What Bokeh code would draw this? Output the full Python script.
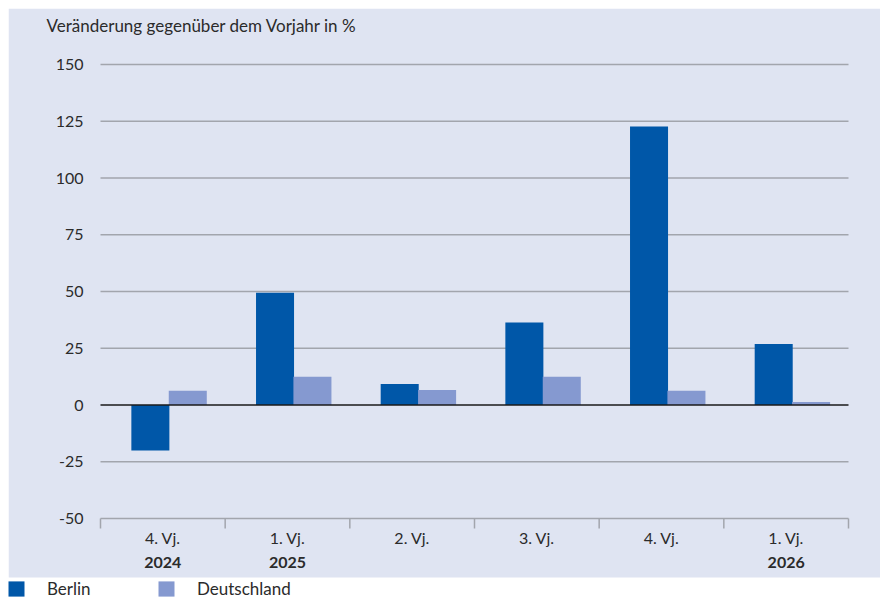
import numpy as np
from bokeh.plotting import figure
from bokeh.models import Range1d, ColumnDataSource, Legend, LegendItem, BoxAnnotation
from bokeh.layouts import column
from bokeh.transform import dodge
from bokeh.core.properties import value
from bokeh.embed import file_html
from bokeh.resources import INLINE

# ---- data ----
quarters = ["4. Vj.", "1. Vj.", "2. Vj.", "3. Vj.", "4. Vj.", "1. Vj."]
years = ["2024", "2025", "", "", "", "2026"]
berlin = [-20.0, 49.5, 9.3, 36.3, 122.7, 26.9]
deutschland = [6.3, 12.5, 6.6, 12.4, 6.3, 1.3]
y_ticks = [-50, -25, 0, 25, 50, 75, 100, 125, 150]
title_text = "Veränderung gegenüber dem Vorjahr in %"
series_names = ["Berlin", "Deutschland"]

# ---- style ----
BG = "#dfe4f2"
C_BERLIN = "#0057a8"
C_DE = "#8599d0"
FONT = "Lato"
TXT = "#2b2b2b"
GRID = "#a2a5ad"
FS = "16px"
FS_BIG = "17px"

W, H_PANEL, H_LEG = 872, 569, 22
PAD_L, PAD_R, PAD_T, PAD_B = 92, 32, 56, 59   # pixel padding of the plotting area inside the panel

n = len(quarters)
ymin, ymax = y_ticks[0], y_ticks[-1]
ux = (W - PAD_L - PAD_R) / n
uy = (H_PANEL - PAD_T - PAD_B) / (ymax - ymin)
x_range = Range1d(-PAD_L / ux, n + PAD_R / ux)
y_range = Range1d(ymin - (PAD_B + H_LEG) / uy, ymax + PAD_T / uy)

xpos = np.arange(n) + 0.5
src = ColumnDataSource(dict(x=xpos, berlin=berlin, de=deutschland, quarter=quarters, year=years))
grid_vals = [t for t in y_ticks if t != 0]
grid_src = ColumnDataSource(dict(y=grid_vals))
tick_src = ColumnDataSource(dict(y=y_ticks, label=[str(t) for t in y_ticks]))
bound_src = ColumnDataSource(dict(x=list(range(n + 1))))

p = figure(width=W, height=H_PANEL + H_LEG, x_range=x_range, y_range=y_range,
           output_backend="svg", toolbar_location=None, min_border=0,
           x_axis_location=None, y_axis_location=None,
           background_fill_color="white", border_fill_color="white", outline_line_color=None)
p.grid.visible = False

# coloured panel
p.add_layout(BoxAnnotation(bottom=ymin - PAD_B / uy, fill_color=BG, fill_alpha=1,
                           line_color=None, level="underlay"))

# grid lines (incl. bottom axis line)
p.segment(x0=0, x1=n, y0='y', y1='y', source=grid_src, line_color=GRID, line_width=1.5)
# category boundary ticks
p.ray(x='x', y=ymin, length=10, length_units="screen", angle=-np.pi / 2, source=bound_src,
      line_color=GRID, line_width=1.5)

rb = p.vbar(x=dodge('x', -0.1, range=p.x_range), top='berlin', width=0.305, source=src,
            fill_color=C_BERLIN, line_color=None)
rd = p.vbar(x=dodge('x', 0.2, range=p.x_range), top='de', width=0.305, source=src,
            fill_color=C_DE, line_color=None)

# zero line
p.segment(x0=[0], x1=[n], y0=[0], y1=[0], line_color="#1a1a1a", line_width=1.5)

# y tick labels
p.text(x=0, y='y', text='label', source=tick_src, x_offset=-17, text_align="right",
       text_baseline="middle", text_font=value(FONT), text_font_size=FS, text_color=TXT)
# x labels
p.text(x='x', y=ymin, text='quarter', source=src, y_offset=19, text_align="center",
       text_baseline="middle", text_font=value(FONT), text_font_size=FS, text_color=TXT)
p.text(x='x', y=ymin, text='year', source=src, y_offset=44, text_align="center",
       text_baseline="middle", text_font=value(FONT), text_font_size=FS,
       text_font_style="bold", text_color=TXT)
# title
p.text(x=[0], y=[ymax], text=[title_text], x_offset=-54, y_offset=-39, text_align="left",
       text_baseline="middle", text_font=value(FONT), text_font_size=FS_BIG, text_color=TXT)

legend = Legend(items=[LegendItem(label=series_names[0], renderers=[rb]),
                       LegendItem(label=series_names[1], renderers=[rd])],
                orientation="horizontal", location=(-2, 0), padding=0, margin=0,
                spacing=9, glyph_width=20, glyph_height=19, label_standoff=21,
                label_width=100, label_height=18, border_line_color=None,
                background_fill_alpha=0,
                label_text_font=FONT, label_text_font_size=FS_BIG, label_text_color=TXT)
p.add_layout(legend)

layout = column(p, margin=(8, 0, 0, 8))
open("out.html", "w").write(file_html(layout, INLINE))
